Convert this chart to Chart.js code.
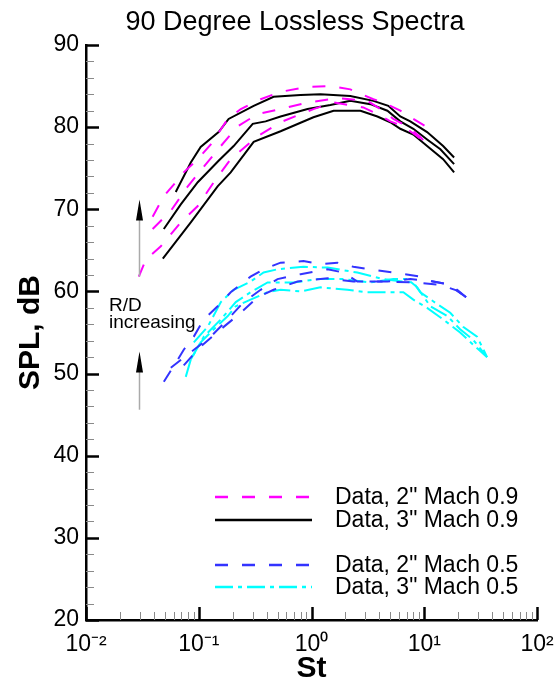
<!DOCTYPE html>
<html><head><meta charset="utf-8">
<script src="https://cdn.jsdelivr.net/npm/chart.js@4.4.1/dist/chart.umd.min.js"></script>
<style>html,body{margin:0;padding:0;background:#fff}#wrap{width:557px;height:687px}</style>
</head><body><div id="wrap"><canvas id="c" width="557" height="687"></canvas></div>
<script>
const chartTitle = '90 Degree Lossless Spectra';
const xAxisTitle = 'St';
const yAxisTitle = 'SPL, dB';
const xTickValues = [0.01, 0.1, 1, 10, 100];
const xTickLabels = ['10\u207B\u00B2', '10\u207B\u00B9', '10\u2070', '10\u00B9', '10\u00B2'];
const yTickValues = [20, 30, 40, 50, 60, 70, 80, 90];
const seriesLabels = ['Data, 2" Mach 0.9', 'Data, 3" Mach 0.9', 'Data, 2" Mach 0.5', 'Data, 3" Mach 0.5'];
const annotationLines = ['R/D', 'increasing'];

// Mach 0.9, 2" jet (three R/D positions)
const st_m09_2in_1 = [0.039,0.049,0.060,0.0736,0.098,0.128,0.181,0.236,0.354,0.532,0.923,1.47,2.21,3.54,4.34,6.13,8.0,10.6,11.8];
const spl_m09_2in_1 = [69.1,71.6,73.0,74.5,76.1,77.9,81.0,82.2,83.4,84.3,84.9,85.0,84.6,83.4,83.0,82.0,81.0,80.0,79.4];
const st_m09_2in_2 = [0.039,0.0565,0.080,0.111,0.157,0.221,0.333,0.532,0.923,1.47,1.81,3.13,4.08,5.32,7.08,9.22,10.6];
const spl_m09_2in_2 = [67.6,69.8,72.8,75.2,77.7,80.1,81.6,82.2,83.0,83.4,83.5,83.2,82.2,81.0,80.1,78.8,77.9];
const st_m09_2in_3 = [0.0294,0.034,0.0461,0.0693,0.098,0.136,0.192,0.333,0.532,1.04,1.57,2.88,3.84,5.0,6.52,8.67,10.6];
const spl_m09_2in_3 = [61.8,63.9,65.5,68.4,70.4,73.3,76.1,78.9,80.6,82.2,83.0,82.4,81.6,80.7,80.1,78.9,77.9];

// Mach 0.9, 3" jet
const st_m09_3in_1 = [0.0625,0.085,0.104,0.150,0.184,0.307,0.461,0.80,1.20,2.21,3.54,4.80,6.13,7.52,10.6,14.7,18.4];
const spl_m09_3in_1 = [72.1,75.7,77.6,79.4,81.0,82.6,83.7,83.9,84.0,83.8,83.2,82.6,81.3,80.7,79.4,77.7,76.3];
const st_m09_3in_2 = [0.049,0.0693,0.098,0.150,0.204,0.301,0.392,0.532,0.923,1.47,2.21,3.33,4.71,6.13,8.0,10.6,13.9,18.4];
const spl_m09_3in_2 = [67.6,70.6,73.3,75.9,77.7,80.4,80.7,81.3,82.2,82.7,83.2,82.8,82.0,80.7,79.8,78.5,77.3,75.5];
const st_m09_3in_3 = [0.048,0.085,0.147,0.192,0.307,0.532,1.04,1.57,2.72,3.84,5.0,6.13,8.0,10.6,14.7,18.4];
const spl_m09_3in_3 = [64.0,68.4,72.8,74.5,78.2,79.5,81.2,82.0,82.0,81.3,80.6,79.8,79.1,77.7,76.1,74.5];

// Mach 0.5, 2" jet
const st_m05_2in_1 = [0.049,0.0638,0.0736,0.0904,0.111,0.147,0.192,0.288,0.376,0.532,0.849,1.20,1.70,2.35,3.33,5.32,9.22,12.0,16.0,19.6,23.5];
const spl_m05_2in_1 = [49.0,51.5,52.9,54.5,56.6,58.2,59.9,61.8,62.7,63.5,63.7,63.3,63.5,63.0,62.7,62.3,61.8,61.2,60.9,60.2,59.3];
const st_m05_2in_2 = [0.0565,0.0849,0.128,0.181,0.250,0.354,0.500,0.80,1.39,1.92,2.55,4.71,7.52,12.0,16.0,23.5];
const spl_m05_2in_2 = [50.7,52.6,54.5,56.6,58.7,60.2,61.5,62.1,62.7,62.3,61.2,61.2,61.5,61.2,60.9,59.3];
const st_m05_2in_3 = [0.0736,0.104,0.157,0.236,0.333,0.461,0.752,1.39,2.35,4.34,8.0,13.9,19.6,23.5];
const spl_m05_2in_3 = [51.0,53.3,55.4,57.4,59.3,60.2,61.2,61.6,61.2,61.2,61.1,60.8,60.1,59.3];

// Mach 0.5, 3" jet
const st_m05_3in_1 = [0.0904,0.120,0.157,0.204,0.288,0.376,0.500,0.849,1.39,2.55,4.34,6.52,8.0,9.22,12.0,17.0,22.1,29.4,36.1];
const spl_m05_3in_1 = [53.8,55.7,58.7,60.2,61.2,62.3,62.7,63.0,62.9,62.3,61.5,61.2,61.1,59.9,58.8,57.4,55.7,54.5,52.0];
const st_m05_3in_2 = [0.0849,0.111,0.157,0.213,0.288,0.408,0.694,1.13,1.92,3.33,5.32,7.08,8.67,11.3,16.0,20.8,27.2,34.7];
const spl_m05_3in_2 = [51.7,54.5,56.6,58.7,59.9,61.1,61.1,61.5,61.5,61.1,61.5,61.5,60.5,58.2,57.0,55.4,54.1,52.3];
const st_m05_3in_3 = [0.0767,0.0849,0.104,0.136,0.181,0.213,0.288,0.408,0.532,0.80,1.20,2.08,3.13,4.34,6.52,8.0,10.6,14.7,20.8,27.2,36.1];
const spl_m05_3in_3 = [49.6,51.7,53.8,55.4,57.0,58.2,59.0,59.9,60.2,60.0,60.5,60.2,59.9,59.9,59.9,59.0,58.0,56.6,55.0,53.5,52.0];

const FONT = '"Liberation Sans", Arial, Helvetica, sans-serif';

const groupStyles = [
  {color: '#ff00ff', dash: [13, 14]},
  {color: '#000000', dash: []},
  {color: '#3333ff', dash: [13, 14]},
  {color: '#00ffff', dash: [18, 5, 4, 5]}
];
const groups = [
  [[st_m09_2in_1, spl_m09_2in_1], [st_m09_2in_2, spl_m09_2in_2], [st_m09_2in_3, spl_m09_2in_3]],
  [[st_m09_3in_1, spl_m09_3in_1], [st_m09_3in_2, spl_m09_3in_2], [st_m09_3in_3, spl_m09_3in_3]],
  [[st_m05_2in_1, spl_m05_2in_1], [st_m05_2in_2, spl_m05_2in_2], [st_m05_2in_3, spl_m05_2in_3]],
  [[st_m05_3in_1, spl_m05_3in_1], [st_m05_3in_2, spl_m05_3in_2], [st_m05_3in_3, spl_m05_3in_3]]
];

const datasets = [];
groups.forEach((g, gi) => {
  g.forEach(([st, spl], li) => {
    datasets.push({
      label: seriesLabels[gi],
      group: gi,
      data: st.map((x, i) => ({x: x, y: spl[i]})),
      borderColor: groupStyles[gi].color,
      borderDash: groupStyles[gi].dash,
      borderWidth: 2,
      pointRadius: 0,
      tension: 0,
      fill: false
    });
  });
});

// decorations positioned in data units
const arrowSt = 0.0294;
const arrows = [[61.8, 71.2], [45.6, 52.7]];
const annotationSt = 0.0160;
const annotationSpl = [58.3, 56.2];

const titlePlugin = {
  id: 'titlePlugin',
  afterDraw(chart) {
    const ctx = chart.ctx;
    ctx.save();
    ctx.fillStyle = '#000';
    ctx.font = '27px ' + FONT;
    ctx.textAlign = 'center';
    ctx.textBaseline = 'alphabetic';
    ctx.fillText(chartTitle, 295, 30);
    ctx.restore();
  }
};

const axisTicks = {
  id: 'axisTicks',
  afterDraw(chart) {
    const {ctx, chartArea: a, scales: {x, y}} = chart;
    ctx.save();
    for (let v = 20; v <= 90; v += 2) {
      const py = Math.round(y.getPixelForValue(v)) + 0.5;
      const major = v % 10 === 0;
      ctx.strokeStyle = major ? '#000' : '#8a8a8a';
      ctx.lineWidth = major ? 2.5 : 1;
      ctx.beginPath();
      ctx.moveTo(a.left, py);
      ctx.lineTo(a.left + (major ? 13 : 8), py);
      ctx.stroke();
    }
    for (let e = -2; e <= 2; e++) {
      for (let m = 1; m <= 9; m++) {
        const v = m * Math.pow(10, e);
        if (v > 100.0001) break;
        const px = Math.round(x.getPixelForValue(v)) + 0.5;
        const major = m === 1;
        ctx.strokeStyle = major ? '#000' : '#8a8a8a';
        ctx.lineWidth = major ? 2.5 : 1;
        ctx.beginPath();
        ctx.moveTo(px, a.bottom);
        ctx.lineTo(px, a.bottom - (major ? 13 : 8));
        ctx.stroke();
      }
    }
    ctx.restore();
  }
};

const annotationPlugin = {
  id: 'annot',
  afterDraw(chart) {
    const {ctx, scales: {x, y}} = chart;
    ctx.save();
    const ax = Math.round(x.getPixelForValue(arrowSt)) + 0.5;
    arrows.forEach(([from, to]) => {
      const y0 = y.getPixelForValue(from), y1 = y.getPixelForValue(to);
      ctx.strokeStyle = '#aaaaaa';
      ctx.lineWidth = 1.5;
      ctx.beginPath(); ctx.moveTo(ax, y0); ctx.lineTo(ax, y1 + 10); ctx.stroke();
      ctx.fillStyle = '#000';
      ctx.beginPath();
      ctx.moveTo(ax, y1);
      ctx.lineTo(ax - 3.5, y1 + 21);
      ctx.lineTo(ax + 3.5, y1 + 21);
      ctx.closePath();
      ctx.fill();
    });
    ctx.fillStyle = '#000';
    ctx.font = '19px ' + FONT;
    ctx.textAlign = 'left';
    ctx.textBaseline = 'middle';
    const tx = x.getPixelForValue(annotationSt);
    annotationLines.forEach((t, i) => ctx.fillText(t, tx, y.getPixelForValue(annotationSpl[i])));
    ctx.restore();
  }
};

const legendLayout = {x0: 215, len: 97, textX: 335, rows: [497, 520, 565, 587]};
const legendPlugin = {
  id: 'customLegend',
  afterDraw(chart) {
    const ctx = chart.ctx;
    ctx.save();
    seriesLabels.forEach((lab, gi) => {
      const yy = legendLayout.rows[gi];
      ctx.strokeStyle = groupStyles[gi].color;
      ctx.setLineDash(groupStyles[gi].dash);
      ctx.lineWidth = 2.5;
      ctx.beginPath();
      ctx.moveTo(legendLayout.x0, yy);
      ctx.lineTo(legendLayout.x0 + legendLayout.len, yy);
      ctx.stroke();
      ctx.setLineDash([]);
      ctx.fillStyle = '#000';
      ctx.font = '23px ' + FONT;
      ctx.textAlign = 'left';
      ctx.textBaseline = 'middle';
      ctx.fillText(lab, legendLayout.textX, yy + 1);
    });
    ctx.restore();
  }
};

new Chart(document.getElementById('c'), {
  type: 'line',
  data: {datasets: datasets},
  options: {
    responsive: false,
    animation: false,
    parsing: true,
    layout: {padding: {left: 0, right: 20, top: 45, bottom: 0}},
    plugins: {legend: {display: false}, title: {display: false}, tooltip: {enabled: false}},
    elements: {point: {radius: 0}, line: {tension: 0}},
    scales: {
      x: {
        type: 'logarithmic', position: 'bottom', min: 0.01, max: 100,
        afterBuildTicks: s => { s.ticks = xTickValues.map(v => ({value: v, major: true})); },
        afterFit: s => { s.height = 67; s.paddingLeft = 0; s.paddingRight = 0; },
        ticks: {autoSkip: false, maxRotation: 0, minRotation: 0, padding: 11, color: '#000',
          font: {size: 23, family: FONT},
          callback: (v, i) => xTickLabels[i]},
        grid: {display: false, drawTicks: false},
        border: {display: true, color: '#000', width: 2.5},
        title: {display: true, text: xAxisTitle, color: '#000',
          font: {size: 30, weight: 'bold', family: FONT}, padding: {top: 0, bottom: 0}}
      },
      y: {
        type: 'linear', position: 'left', min: 20, max: 90,
        afterBuildTicks: s => { s.ticks = yTickValues.map(v => ({value: v})); },
        afterFit: s => { s.width = 86; },
        ticks: {autoSkip: false, padding: 7, color: '#000', font: {size: 23, family: FONT},
          callback: v => String(v)},
        grid: {display: false, drawTicks: false},
        border: {display: true, color: '#000', width: 2.5},
        title: {display: true, text: yAxisTitle, color: '#000',
          font: {size: 30, weight: 'bold', family: FONT}, padding: {top: 13, bottom: 0}}
      }
    }
  },
  plugins: [titlePlugin, axisTicks, annotationPlugin, legendPlugin]
});
</script>
</body></html>
